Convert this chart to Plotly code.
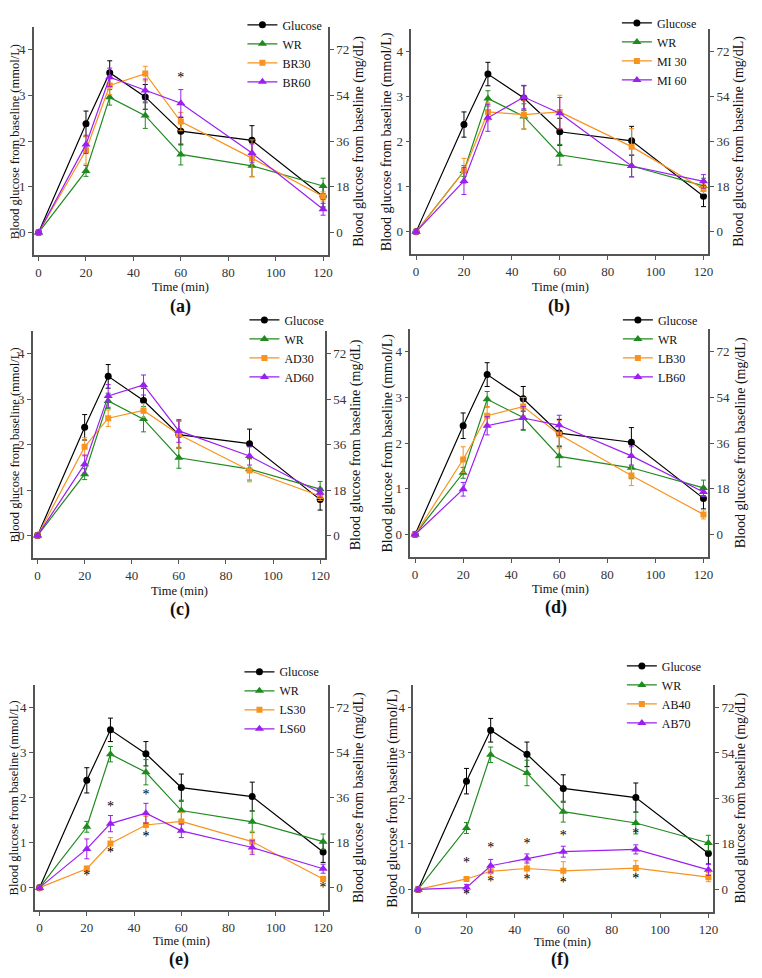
import plotly.graph_objects as go

# page is 762x978; the html body has an 8px default margin, so the figure
# itself is drawn 8px in from the top-left corner.
PAGE_OFF = 8
FW, FH = 746, 962

time = [0, 20, 30, 45, 60, 90, 120]

glucose = [0, 2.38, 3.50, 2.97, 2.22, 2.02, 0.79]
glucose_err = [0.05, 0.28, 0.26, 0.27, 0.30, 0.32, 0.23]
wr = [0, 1.35, 2.96, 2.56, 1.71, 1.46, 1.02]
wr_err = [0.05, 0.12, 0.17, 0.28, 0.23, 0.24, 0.17]

panel_letters = ["(a)", "(b)", "(c)", "(d)", "(e)", "(f)"]
low_names = ["BR30", "MI 30", "AD30", "LB30", "LS30", "AB40"]
high_names = ["BR60", "MI 60", "AD60", "LB60", "LS60", "AB70"]

low_vals = [
    [0, 1.80, 3.22, 3.48, 2.43, 1.63, 0.79],
    [0, 1.35, 2.66, 2.60, 2.66, 1.89, 0.95],
    [0, 1.95, 2.58, 2.75, 2.22, 1.43, 0.87],
    [0, 1.64, 2.60, 2.80, 2.19, 1.29, 0.44],
    [0, 0.42, 0.98, 1.39, 1.47, 1.02, 0.19],
    [0, 0.23, 0.40, 0.46, 0.41, 0.47, 0.27],
]
low_errs = [
    [0.05, 0.30, 0.20, 0.16, 0.20, 0.40, 0.10],
    [0.05, 0.28, 0.20, 0.32, 0.37, 0.40, 0.10],
    [0.05, 0.20, 0.18, 0.15, 0.30, 0.25, 0.10],
    [0.05, 0.28, 0.20, 0.20, 0.30, 0.22, 0.10],
    [0.05, 0.06, 0.13, 0.19, 0.20, 0.23, 0.06],
    [0.05, 0.05, 0.12, 0.15, 0.20, 0.16, 0.10],
]
high_vals = [
    [0, 1.93, 3.40, 3.11, 2.83, 1.74, 0.51],
    [0, 1.13, 2.53, 2.99, 2.63, 1.46, 1.12],
    [0, 1.57, 3.07, 3.31, 2.30, 1.75, 0.94],
    [0, 0.99, 2.38, 2.55, 2.39, 1.72, 0.93],
    [0, 0.86, 1.42, 1.65, 1.26, 0.89, 0.42],
    [0, 0.04, 0.52, 0.68, 0.83, 0.88, 0.43],
]
high_errs = [
    [0.05, 0.20, 0.20, 0.25, 0.30, 0.20, 0.13],
    [0.05, 0.30, 0.30, 0.26, 0.35, 0.24, 0.15],
    [0.05, 0.20, 0.25, 0.22, 0.25, 0.20, 0.10],
    [0.05, 0.15, 0.20, 0.25, 0.22, 0.20, 0.10],
    [0.05, 0.22, 0.18, 0.22, 0.15, 0.15, 0.10],
    [0.05, 0.07, 0.14, 0.10, 0.12, 0.10, 0.12],
]

# significance stars (x in min, y in mmol/L)
star_x = [
    [60],
    [],
    [],
    [],
    [20, 30, 30, 45, 45, 120],
    [20, 20, 30, 30, 45, 45, 60, 60, 90, 90],
]
star_y = [
    [3.37],
    [],
    [],
    [],
    [0.24, 1.78, 0.76, 2.05, 1.11, -0.01],
    [0.58, -0.14, 0.91, 0.16, 0.98, 0.19, 1.16, 0.12, 1.20, 0.21],
]

mmol_ticks = [0, 1, 2, 3, 4]
mgdl_ticks = [0, 18, 36, 54, 72]

# layout in page pixels: (left, right, top, bottom)
boxes = [
    (34, 330, 8, 241),
    (414, 713, 10, 240),
    (33, 327, 318, 550),
    (413, 713, 316, 549),
    (35, 330, 679, 909),
    (416, 718, 679, 911),
]
legend_pos = [(244, -9), (621, -11), (246, 292), (622, 292), (241, 651), (626, 645)]
label_pos = [(182, 293), (563, 293), (181, 602), (560, 600), (180, 959), (564, 959)]
xtitle_pos = [(182, 273), (564, 273), (181, 583), (564, 581), (183, 940), (566, 941)]
ytitle_left_x = [15, 389, 15, 391, 15, 396]
ytitle_right_x = [362, 744, 358, 746, 362, 746]

BLACK = "#000000"
GREEN = "#1f8a1f"
ORANGE = "#f7931e"
PURPLE = "#9a1ff0"
AXC = "#555555"
FONT = "Liberation Serif, Times New Roman, Tinos, DejaVu Serif, serif"

fig = go.Figure()
layout = dict(
    width=FW, height=FH, margin=dict(l=0, r=0, t=0, b=0),
    paper_bgcolor="white", plot_bgcolor="white",
    font=dict(family=FONT, size=13, color="#222222"),
    annotations=[],
)


def px_x(p):
    return (p - PAGE_OFF) / FW


def px_y(p):
    return 1 - (p - PAGE_OFF) / FH


def note(text, x, y, size, angle=0):
    return dict(text=text, x=px_x(x), y=px_y(y), xref="paper", yref="paper",
                showarrow=False, textangle=angle,
                font=dict(size=size, family=FONT, color="#111"),
                xanchor="center", yanchor="middle")


for i in range(6):
    n = i + 1
    xa = "xaxis" if n == 1 else f"xaxis{n}"
    ya_l = f"yaxis{2 * n - 1}" if n > 1 else "yaxis"
    ya_r = f"yaxis{2 * n}"
    xref = "x" if n == 1 else f"x{n}"
    yref_l = "y" if n == 1 else f"y{2 * n - 1}"
    yref_r = f"y{2 * n}"
    lg = "legend" if n == 1 else f"legend{n}"
    l, r, t, b = boxes[i]
    axis_common = dict(
        ticks="outside", ticklen=4, tickcolor=AXC, showline=True, linecolor=AXC,
        linewidth=1.5, showgrid=False, zeroline=False,
        tickfont=dict(size=13, family=FONT, color="#333"),
    )
    layout[xa] = dict(domain=[px_x(l), px_x(r)], range=[-2, 122], anchor=yref_l,
                      tickvals=[0, 20, 40, 60, 80, 100, 120], **axis_common)
    layout[ya_l] = dict(domain=[px_y(b), px_y(t)], range=[-0.5, 4.5], anchor=xref,
                        tickvals=mmol_ticks, **axis_common)
    layout[ya_r] = dict(range=[-9, 81], overlaying=yref_l, anchor=xref, side="right",
                        tickvals=mgdl_ticks, **axis_common)
    lx, ly = legend_pos[i]
    layout[lg] = dict(
        x=px_x(lx), y=px_y(ly), xanchor="left", yanchor="top",
        bgcolor="rgba(0,0,0,0)", font=dict(size=12, family=FONT, color="#111"),
        itemwidth=30, tracegroupgap=0,
    )

    series = [
        ("Glucose", glucose, glucose_err, BLACK, "circle", 7),
        ("WR", wr, wr_err, GREEN, "triangle-up", 8),
        (low_names[i], low_vals[i], low_errs[i], ORANGE, "square", 6),
        (high_names[i], high_vals[i], high_errs[i], PURPLE, "triangle-up", 8),
    ]
    for name, vals, errs, col, sym, sz in series:
        fig.add_trace(go.Scatter(
            x=time, y=vals, name=name, mode="lines+markers",
            line=dict(color=col, width=1.2),
            marker=dict(color=col, symbol=sym, size=sz),
            error_y=dict(type="data", array=errs, visible=True, color=col,
                         thickness=1, width=2.5),
            xaxis=xref, yaxis=yref_l, legend=lg, showlegend=True,
        ))
    # mg/dL companion of glucose on right axis (transparent, keeps the axis live)
    fig.add_trace(go.Scatter(
        x=time, y=[v * 18 for v in glucose], mode="lines",
        line=dict(color="rgba(0,0,0,0)"), hoverinfo="skip",
        xaxis=xref, yaxis=yref_r, showlegend=False,
    ))
    if star_x[i]:
        fig.add_trace(go.Scatter(
            x=star_x[i], y=star_y[i], mode="text", text=["*"] * len(star_x[i]),
            textfont=dict(size=14, family=FONT, color="black"),
            xaxis=xref, yaxis=yref_l, showlegend=False, hoverinfo="skip",
        ))
    cy = (t + b) / 2
    lsize = 12.5 if ytitle_left_x[i] < 30 else 14
    layout["annotations"].append(note("Blood glucose from baseline (mmol/L)",
                                      ytitle_left_x[i], cy, lsize, -90))
    layout["annotations"].append(note("Blood glucose from baseline (mg/dL)",
                                      ytitle_right_x[i], cy, 14, -90))
    tx, ty = xtitle_pos[i]
    layout["annotations"].append(note("Time (min)", tx, ty, 12.5))
    lx2, ly2 = label_pos[i]
    layout["annotations"].append(note(f"<b>{panel_letters[i]}</b>", lx2, ly2, 18))

fig.update_layout(**layout)
fig.write_html("out.html")
